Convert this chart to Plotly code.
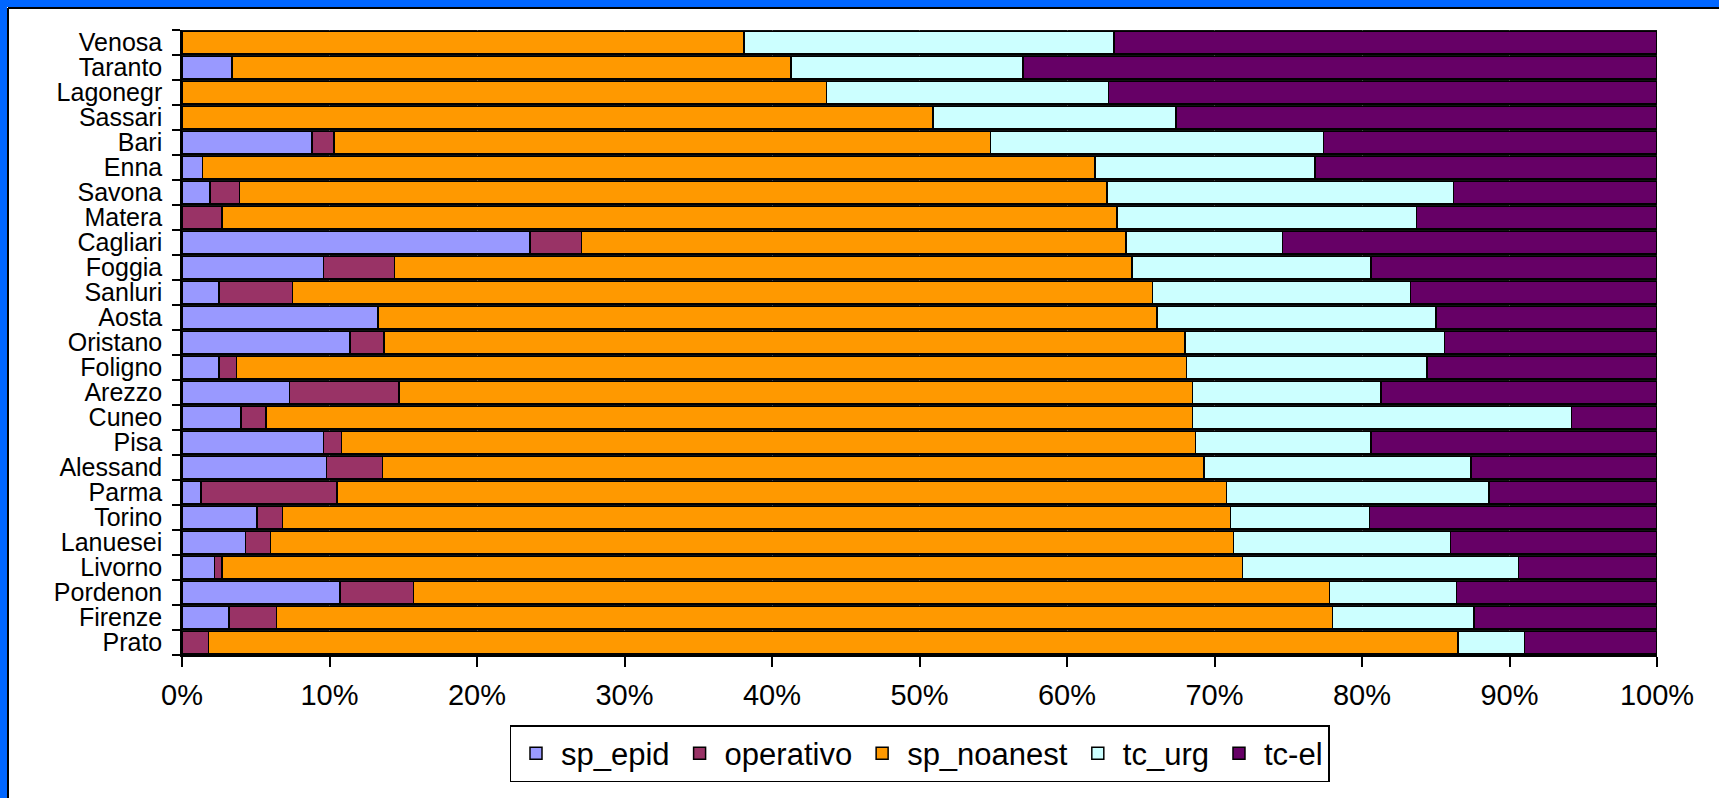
import plotly.graph_objects as go

# categories top to bottom, as in the picture
sites = ["Venosa", "Taranto", "Lagonegr", "Sassari", "Bari", "Enna", "Savona",
         "Matera", "Cagliari", "Foggia", "Sanluri", "Aosta", "Oristano",
         "Foligno", "Arezzo", "Cuneo", "Pisa", "Alessand", "Parma", "Torino",
         "Lanuesei", "Livorno", "Pordenon", "Firenze", "Prato"]

# shares in percent, one list per series, same order as sites
sp_epid = [0, 3.4, 0, 0, 8.8, 1.4, 1.9, 0, 23.6, 9.6, 2.5, 13.3, 11.4,
           2.5, 7.3, 4.0, 9.6, 9.8, 1.3, 5.1, 4.3, 2.2, 10.7, 3.2, 0]
operativo = [0, 0, 0, 0, 1.5, 0, 2.0, 2.7, 3.5, 4.8, 5.0, 0, 2.3,
             1.2, 7.4, 1.7, 1.2, 3.8, 9.2, 1.7, 1.7, 0.5, 5.0, 3.2, 1.8]
sp_noanest = [38.1, 37.9, 43.7, 50.9, 44.5, 60.5, 58.8, 60.7, 36.9, 50.0, 58.3, 52.8, 54.3,
              64.4, 53.8, 62.8, 57.9, 55.7, 60.3, 64.3, 65.3, 69.2, 62.1, 71.6, 84.7]
tc_urg = [25.1, 15.7, 19.1, 16.5, 22.6, 14.9, 23.5, 20.3, 10.6, 16.2, 17.5, 18.9, 17.6,
          16.3, 12.8, 25.7, 11.9, 18.1, 17.8, 9.4, 14.7, 18.7, 8.6, 9.6, 4.5]
tc_el = [36.8, 43.0, 37.2, 32.6, 22.6, 23.2, 13.8, 16.3, 25.4, 19.4, 16.7, 15.0, 14.4,
         15.6, 18.7, 5.8, 19.4, 12.6, 11.4, 19.5, 14.0, 9.4, 13.6, 12.4, 9.0]

series = [
    ("sp_epid", sp_epid, "#9999FF"),
    ("operativo", operativo, "#993366"),
    ("sp_noanest", sp_noanest, "#FF9900"),
    ("tc_urg", tc_urg, "#CCFFFF"),
    ("tc-el", tc_el, "#660066"),
]

W, H = 1719, 798
L, R, T, B = 182, 62, 30, 143
pw, ph = W - L - R, H - T - B

def px_x(p):
    return (p - L) / pw

def px_y(p):
    return (H - B - p) / ph

fig = go.Figure()
for name, vals, col in series:
    fig.add_trace(go.Bar(
        y=sites, x=vals, name=name, orientation="h",
        marker=dict(color=col, line=dict(color="black", width=1.5)),
    ))

font = "Liberation Sans, Arial, sans-serif"

fig.update_layout(
    width=W, height=H,
    margin=dict(l=L, r=R, t=T, b=B),
    barmode="stack", barnorm="percent", bargap=0.1,
    paper_bgcolor="white", plot_bgcolor="#111111",
    showlegend=True,
    legend=dict(
        orientation="h", x=0.5, xanchor="center", y=-0.112, yanchor="top",
        traceorder="normal",
        bordercolor="black", borderwidth=1.5, bgcolor="white",
        font=dict(family=font, size=31, color="black"),
        itemwidth=40, tracegroupgap=0,
    ),
    xaxis=dict(
        range=[0, 100], tickmode="linear", tick0=0, dtick=10, ticksuffix="%",
        ticks="outside", ticklen=10, tickcolor="black", tickwidth=1.5,
        showline=True, linecolor="black", linewidth=1.5,
        showgrid=True, gridcolor="#444444", gridwidth=1,
        zeroline=False, ticklabelstandoff=3,
        tickfont=dict(family=font, size=29, color="black"),
    ),
    yaxis=dict(
        autorange="reversed", tickson="boundaries",
        tickmode="array", tickvals=sites, ticktext=sites,
        ticks="outside", ticklen=8, tickcolor="black", tickwidth=1.5,
        showline=True, linecolor="black", linewidth=1.5,
        showgrid=False, ticklabelstandoff=13,
        tickfont=dict(family=font, size=25, color="black"),
    ),
    shapes=[
        # blue frame on left and top edges
        dict(type="rect", xref="paper", yref="paper", layer="below",
             x0=px_x(0), x1=px_x(7), y0=px_y(H), y1=px_y(0),
             fillcolor="#0066FF", line=dict(width=0)),
        dict(type="rect", xref="paper", yref="paper", layer="below",
             x0=px_x(0), x1=px_x(W), y0=px_y(7), y1=px_y(0),
             fillcolor="#0066FF", line=dict(width=0)),
        dict(type="line", xref="paper", yref="paper", layer="below",
             x0=px_x(8), x1=px_x(8), y0=px_y(H), y1=px_y(8),
             line=dict(color="black", width=2)),
        dict(type="line", xref="paper", yref="paper", layer="below",
             x0=px_x(8), x1=px_x(W), y0=px_y(8), y1=px_y(8),
             line=dict(color="black", width=2)),
    ],
)

fig.write_html("out.html", config={"displayModeBar": False},
               post_script="document.body.style.margin='0';")
